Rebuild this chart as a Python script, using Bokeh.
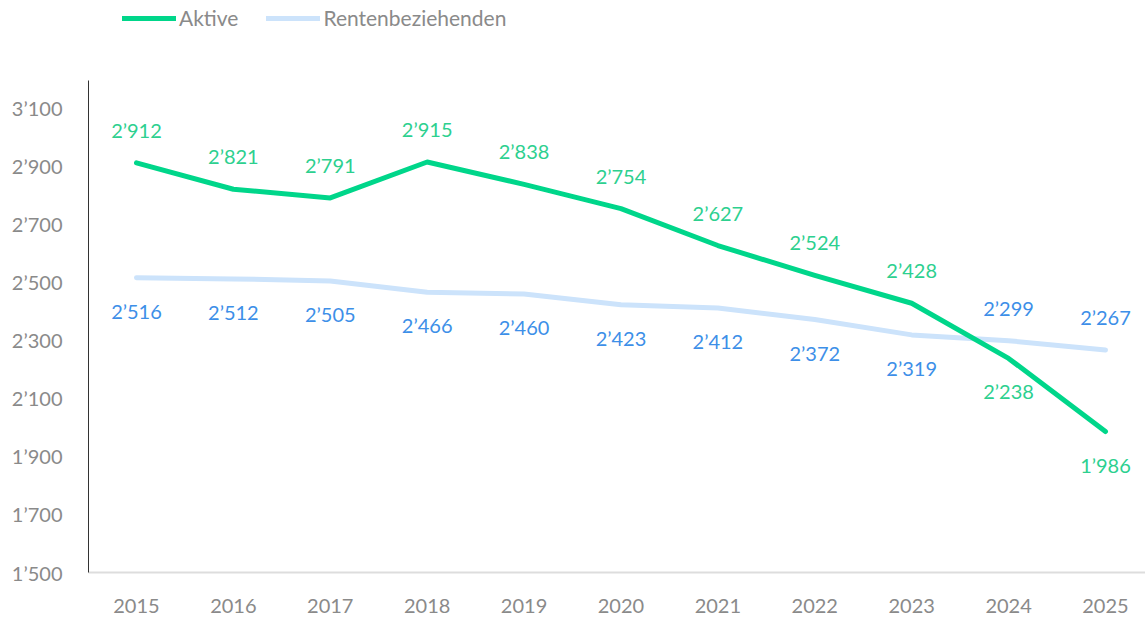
from bokeh.plotting import figure
from bokeh.models import Range1d, FixedTicker, CustomJSTickFormatter, Legend, LegendItem, ColumnDataSource
from bokeh.core.properties import value
from bokeh.embed import file_html
from bokeh.resources import INLINE

years = [2015, 2016, 2017, 2018, 2019, 2020, 2021, 2022, 2023, 2024, 2025]
aktive = [2912, 2821, 2791, 2915, 2838, 2754, 2627, 2524, 2428, 2238, 1986]
renten = [2516, 2512, 2505, 2466, 2460, 2423, 2412, 2372, 2319, 2299, 2267]
y_ticks = [1500, 1700, 1900, 2100, 2300, 2500, 2700, 2900, 3100]

FONT = "Lato"
GREEN_LINE = "#00D68A"
GREEN_TEXT = "#2DD08F"
BLUE_LINE = "#CCE3FB"
BLUE_TEXT = "#3D8FE8"
GRAY = "#8A8A8A"

def fmt(v):
    s = f"{v:,}"
    return s.replace(",", "\u2019")

p = figure(width=1145, height=615, output_backend="svg", toolbar_location=None,
           x_range=Range1d(2014.505, 2025.413), y_range=Range1d(1500, 3471.6))
p.min_border_left = 88
p.min_border_right = 0
p.min_border_top = 0
p.min_border_bottom = 42
p.outline_line_color = None
p.xgrid.visible = False
p.ygrid.visible = False
p.background_fill_color = "white"
p.border_fill_color = "white"

# axes
p.xaxis.ticker = FixedTicker(ticks=years)
p.yaxis.ticker = FixedTicker(ticks=y_ticks)
p.yaxis.bounds = (1500, 3196)
p.yaxis.formatter = CustomJSTickFormatter(code="""
const s = Math.round(tick).toString();
return s.replace(/\\B(?=(\\d{3})+(?!\\d))/g, "\\u2019");
""")
p.xaxis.formatter = CustomJSTickFormatter(code="return Math.round(tick).toString();")
for ax in (p.xaxis[0], p.yaxis[0]):
    ax.major_tick_line_color = None
    ax.minor_tick_line_color = None
    ax.major_label_text_font = FONT
    ax.major_label_text_font_size = "20px"
    ax.major_label_text_color = GRAY
p.yaxis.axis_line_color = "#333333"
p.yaxis.axis_line_width = 1
p.yaxis.major_label_standoff = 20
p.xaxis.axis_line_color = "#DDDDDD"
p.xaxis.axis_line_width = 2
p.xaxis.major_label_standoff = 20

r_renten = p.line(years, renten, line_color=BLUE_LINE, line_width=5, line_cap="round", line_join="round")
r_aktive = p.line(years, aktive, line_color=GREEN_LINE, line_width=5, line_cap="round", line_join="round")

# label placement: above/below (style)
a_side = [-1, -1, -1, -1, -1, -1, -1, -1, -1, 1, 1]
r_side = [1, 1, 1, 1, 1, 1, 1, 1, 1, -1, -1]
off = 33

src_a = ColumnDataSource(dict(x=years, y=aktive, t=[fmt(v) for v in aktive],
                              o=[s * off for s in a_side]))
src_r = ColumnDataSource(dict(x=years, y=renten, t=[fmt(v) for v in renten],
                              o=[s * off for s in r_side]))
p.text(x="x", y="y", text="t", y_offset="o", source=src_a, text_align="center",
       text_baseline="middle", text_font=value(FONT), text_font_size="20px",
       text_color=GREEN_TEXT)
p.text(x="x", y="y", text="t", y_offset="o", source=src_r, text_align="center",
       text_baseline="middle", text_font=value(FONT), text_font_size="20px",
       text_color=BLUE_TEXT)

legend = Legend(items=[LegendItem(label="Aktive", renderers=[r_aktive]),
                       LegendItem(label="Rentenbeziehenden", renderers=[r_renten])],
                orientation="horizontal", location=(34, 542),
                glyph_width=54, glyph_height=20, label_standoff=3, spacing=28,
                padding=0, margin=0, border_line_color=None,
                background_fill_alpha=0,
                label_text_font=FONT, label_text_font_size="21px",
                label_text_color=GRAY)
p.add_layout(legend, "center")

open("out.html", "w").write(file_html(p, INLINE))
